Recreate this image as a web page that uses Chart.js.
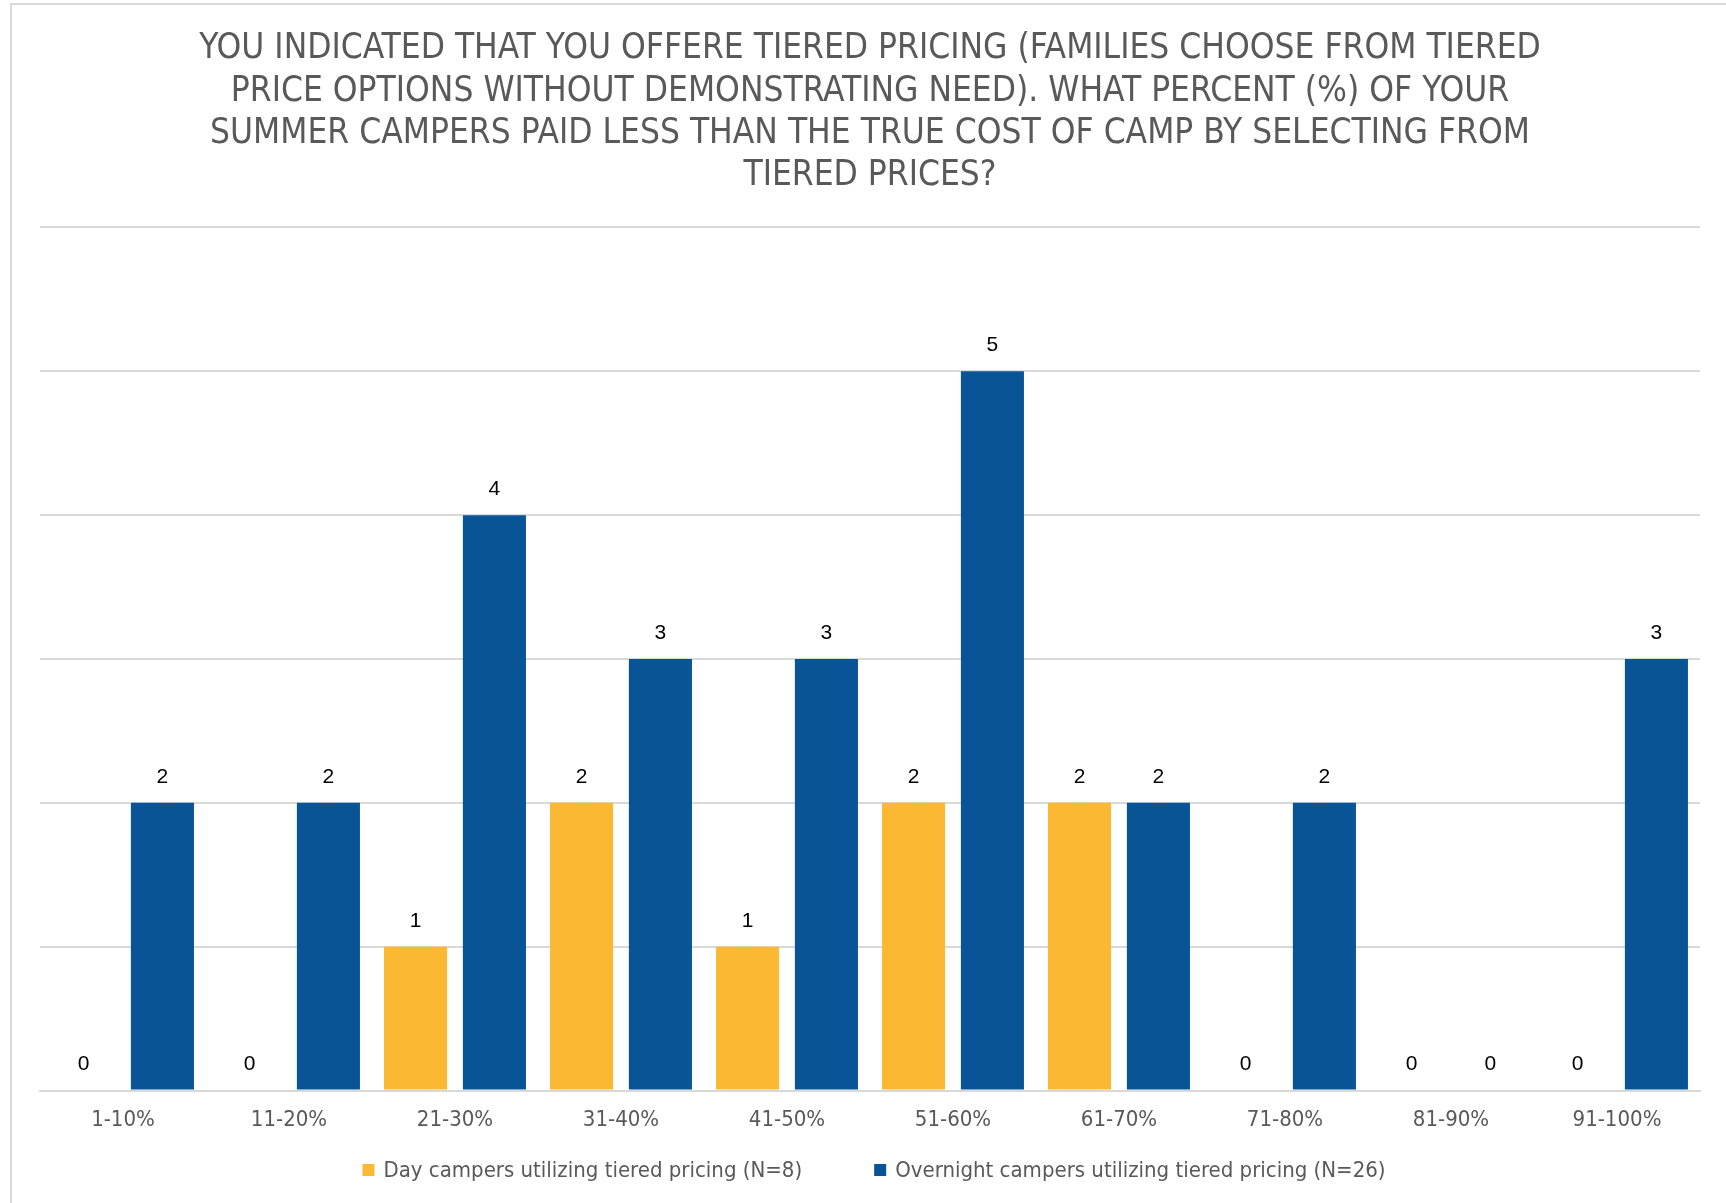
<!DOCTYPE html>
<html>
<head>
<meta charset="utf-8">
<script src="https://cdn.jsdelivr.net/npm/chart.js@4.4.1/dist/chart.umd.min.js"></script>
<style>
  html, body { margin: 0; padding: 0; background: #ffffff; overflow: hidden; }
  #frame {
    position: absolute; left: 10px; top: 3px; width: 1800px; height: 1300px;
    border-left: 2px solid #d9d9d9; border-top: 2px solid #d9d9d9;
  }
  #wrap { position: absolute; left: 0; top: 0; width: 1726px; height: 1203px; }
</style>
</head>
<body>
<div id="frame"></div>
<div id="wrap"><canvas id="tieredChart"></canvas></div>
<script>
// Data
const categories = ['1-10%', '11-20%', '21-30%', '31-40%', '41-50%', '51-60%', '61-70%', '71-80%', '81-90%', '91-100%'];
const dayCampers = [0, 0, 1, 2, 1, 2, 2, 0, 0, 0];
const overnightCampers = [2, 2, 4, 3, 3, 5, 2, 2, 0, 3];
const seriesLabels = [
  'Day campers utilizing tiered pricing (N=8)',
  'Overnight campers utilizing tiered pricing (N=26)'
];
const titleLines = [
  'YOU INDICATED THAT YOU OFFERE TIERED PRICING (FAMILIES CHOOSE FROM TIERED',
  'PRICE OPTIONS WITHOUT DEMONSTRATING NEED). WHAT PERCENT (%) OF YOUR',
  'SUMMER CAMPERS PAID LESS THAN THE TRUE COST OF CAMP BY SELECTING FROM',
  'TIERED PRICES?'
];

const colors = {
  day: '#fbb832',
  overnight: '#085496',
  text: '#595959',
  grid: '#d9d9d9'
};
const narrowFont = '"Liberation Sans Narrow", "DejaVu Sans Condensed", "Liberation Sans", sans-serif';

// Value labels above each bar
const valueLabels = {
  id: 'valueLabels',
  afterDatasetsDraw(chart) {
    const ctx = chart.ctx;
    ctx.save();
    ctx.font = '21px "Liberation Sans", sans-serif';
    ctx.fillStyle = '#000000';
    ctx.textAlign = 'center';
    ctx.textBaseline = 'middle';
    chart.data.datasets.forEach((ds, i) => {
      const meta = chart.getDatasetMeta(i);
      meta.data.forEach((bar, j) => {
        ctx.fillText(String(ds.data[j]), bar.x, bar.y - 26);
      });
    });
    ctx.restore();
  }
};

// Legend drawn under the axis, wider spacing than the built-in one allows
const bottomLegend = {
  id: 'bottomLegend',
  afterDraw(chart) {
    const ctx = chart.ctx;
    const box = 12, gap = 9, spacing = 72;
    const y = 1170;
    ctx.save();
    ctx.font = '22px ' + narrowFont;
    ctx.textBaseline = 'middle';
    ctx.textAlign = 'left';
    const items = chart.data.datasets.map(ds => ({
      text: ds.label,
      color: ds.backgroundColor,
      width: box + gap + ctx.measureText(ds.label).width
    }));
    const total = items.reduce((s, it) => s + it.width, 0) + spacing * (items.length - 1);
    const center = (chart.chartArea.left + chart.chartArea.right) / 2 + 4;
    let x = center - total / 2;
    items.forEach(it => {
      ctx.fillStyle = it.color;
      ctx.fillRect(x, y - box / 2, box, box);
      ctx.fillStyle = colors.text;
      ctx.fillText(it.text, x + box + gap, y + 1);
      x += it.width + spacing;
    });
    ctx.restore();
  }
};

new Chart(document.getElementById('tieredChart'), {
  type: 'bar',
  data: {
    labels: categories,
    datasets: [
      {
        label: seriesLabels[0],
        data: dayCampers,
        backgroundColor: colors.day,
        categoryPercentage: 0.95,
        barPercentage: 0.8
      },
      {
        label: seriesLabels[1],
        data: overnightCampers,
        backgroundColor: colors.overnight,
        categoryPercentage: 0.95,
        barPercentage: 0.8
      }
    ]
  },
  options: {
    responsive: true,
    maintainAspectRatio: false,
    animation: false,
    layout: {
      padding: { left: 40, right: 26, top: 0, bottom: 54 }
    },
    scales: {
      x: {
        grid: { display: false, drawTicks: false },
        border: { color: colors.grid, width: 2 },
        ticks: {
          color: colors.text,
          padding: 16,
          font: { family: narrowFont, size: 22 }
        }
      },
      y: {
        min: 0,
        max: 6,
        ticks: { stepSize: 1, display: false },
        grid: { color: colors.grid, lineWidth: 2, drawTicks: false },
        border: { display: false }
      }
    },
    plugins: {
      title: {
        display: true,
        text: titleLines,
        color: colors.text,
        font: { family: narrowFont, size: 35, weight: 'normal', lineHeight: 1.21 },
        padding: { top: 28, bottom: 30 }
      },
      legend: { display: false },
      tooltip: { enabled: false }
    }
  },
  plugins: [valueLabels, bottomLegend]
});
</script>
</body>
</html>
